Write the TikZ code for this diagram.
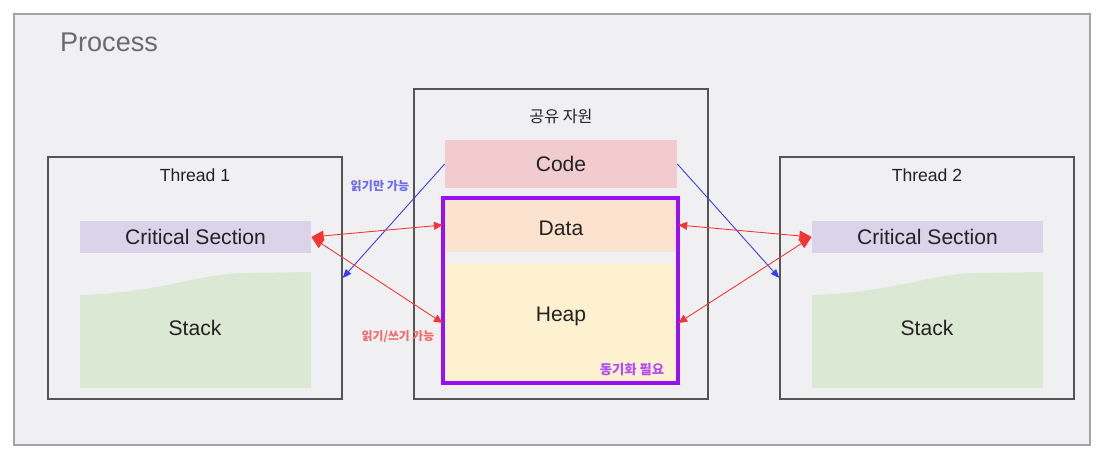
\documentclass[tikz,border=0pt]{standalone}
\usepackage{fontspec}
\setmainfont{Liberation Sans}
\newfontfamily\kr{Noto Sans CJK KR}
\usetikzlibrary{arrows.meta,fit}
\definecolor{bggray}{HTML}{F0F0F2}
\definecolor{outline}{HTML}{A3A3A3}
\definecolor{boxline}{HTML}{555555}
\definecolor{txt}{HTML}{222222}
\definecolor{csfill}{HTML}{DAD3EA}
\definecolor{stackfill}{HTML}{DAE8D4}
\definecolor{codefill}{HTML}{F2CBCF}
\definecolor{datafill}{HTML}{FCE3D0}
\definecolor{heapfill}{HTML}{FEF1D0}
\definecolor{syncline}{HTML}{9A10F5}
\definecolor{rdline}{HTML}{F23535}
\definecolor{blline}{HTML}{3A3AF0}
\tikzset{
  box/.style={draw=boxline,line width=0.8pt,fill=bggray,inner sep=0pt},
  bar/.style={inner sep=0pt},
  big/.style={text=txt,font=\fontsize{12}{14}\selectfont},
  lbl/.style={text=txt,font=\fontsize{10}{12}\selectfont},
  rd/.style={draw=rdline,line width=0.5pt,{Triangle[length=7pt,width=6pt]}-{Triangle[length=5pt,width=4.5pt]}},
  bl/.style={draw=blline,line width=0.5pt,-{Triangle[length=5pt,width=4pt]}}
}
\begin{document}
\begin{tikzpicture}[x=0.02cm,y=-0.02cm]
  \fill[white] (0,0) rectangle (1117,460);
  \node[box,draw=outline,fit={(14,14) (1090,445)}] (process) {};
  \node[text=black!58,font=\fontsize{15.4}{18}\selectfont] (ptitle) at (109,42) {Process};
  % threads
  \foreach \i/\x in {1/48,2/780} {
    \node[box,fit={(\x,157) (\x+294,399)}] (thread\i) {};
    \node[lbl] (ttitle\i) at (\x+147,175) {Thread \i};
    \node[bar,fill=csfill,fit={(\x+32,221) (\x+263,253)}] (cs\i) {};
    \node[big] (cstext\i) at (cs\i) {Critical Section};
    \fill[stackfill] (\x+32,388) -- (\x+32,295)
      .. controls (\x+110,293) and (\x+150,274) .. (\x+195,273)
      -- (\x+263,272) -- (\x+263,388) -- cycle;
    \node[big] (stack\i) at (\x+147,328) {Stack};
  }
  % shared resources
  \node[box,fit={(414,89) (708,399)}] (shared) {};
  \node[text=txt,font=\kr\fontsize{9.2}{11}\selectfont] (stitle) at (561,116) {공유 자원};
  \node[bar,fill=codefill,fit={(445,140) (677,188)}] (code) {};
  \node[big] (codetext) at (code) {Code};
  \node[bar,fill=datafill,fit={(443,198) (678,252)}] (data) {};
  \node[big] (datatext) at (561,228) {Data};
  \node[bar,fill=heapfill,fit={(443,264) (678,382)}] (heap) {};
  \node[big] (heaptext) at (561,316) {Heap};
  \node[draw=syncline,line width=1.8pt,inner sep=0pt,fit={(443,198) (678,383)}] (sync) {};
  \node[text=syncline!75,font=\kr\bfseries\fontsize{7.6}{9}\selectfont] (synctext) at (632,370) {동기화 필요};
  % access arrows
  \draw[bl] (code.west) -- (thread1.east);
  \draw[bl] (code.east) -- (thread2.west);
  \draw[rd] (cs1.east) -- (data.west);
  \draw[rd] (cs1.east) -- (heap.west);
  \draw[rd] (cs2.west) -- (data.east);
  \draw[rd] (cs2.west) -- (heap.east);
  \node[text=blline!75,font=\kr\bfseries\fontsize{6.9}{8}\selectfont] (rolabel) at (380,186) {읽기만 가능};
  \node[text=rdline!75,font=\kr\bfseries\fontsize{6.7}{8}\selectfont] (rwlabel) at (398,337) {읽기/쓰기 가능};
\end{tikzpicture}
\end{document}
